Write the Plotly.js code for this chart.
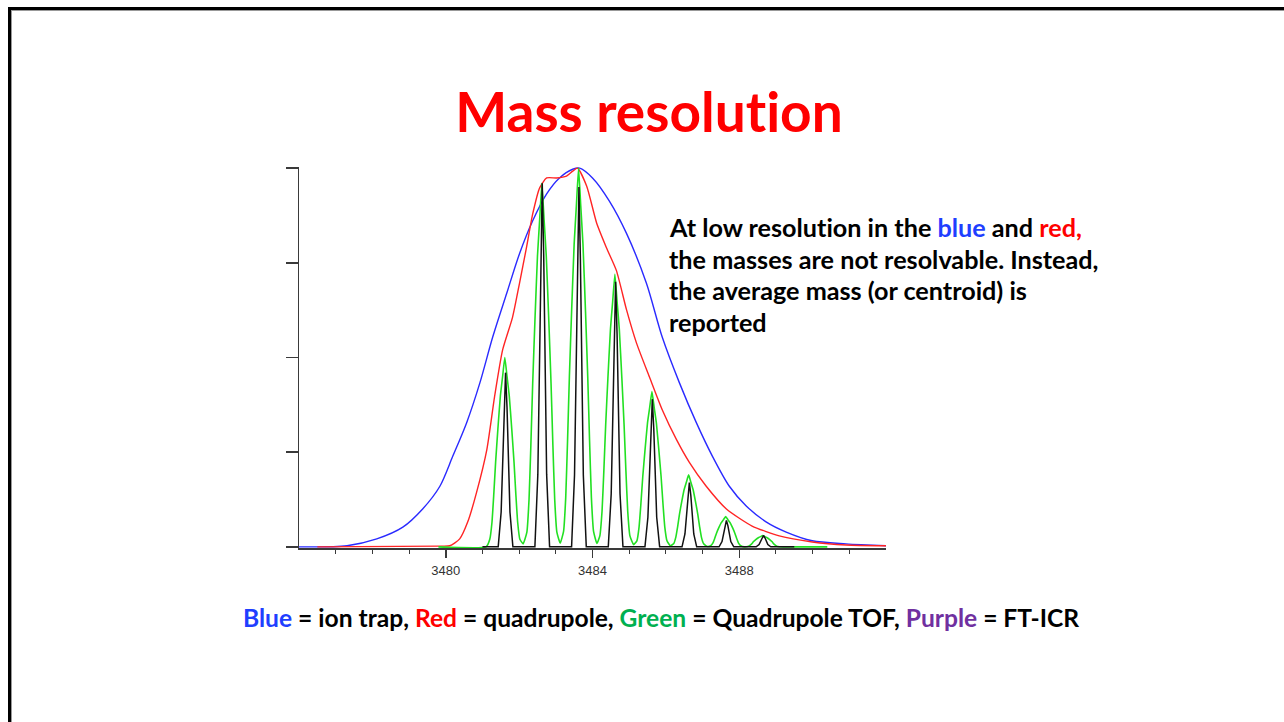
<!DOCTYPE html>
<html>
<head>
<meta charset="utf-8">
<script src="https://cdn.plot.ly/plotly-3.0.1.min.js"></script>
<style>
  html, body { margin: 0; padding: 0; background: #ffffff; }
  #chart { width: 1284px; height: 722px; }
  #chart text { font-variant-ligatures: none; font-feature-settings: "liga" 0, "clig" 0; }
  #frame {
    position: absolute; left: 8px; top: 7px; width: 1290px; height: 730px;
    border-left: 3px solid #000; border-top: 3px solid #000;
    box-shadow: inset 1px 1px 0 #999;
    pointer-events: none; box-sizing: border-box;
  }
</style>
</head>
<body>
<div id="chart"></div>
<div id="frame"></div>
<script>
// Blue = ion trap (lowest resolution)
const blueX = [3476.00, 3477.31, 3478.12, 3478.83, 3479.37, 3479.84, 3480.19, 3480.57, 3480.93, 3481.28, 3481.66, 3482.01, 3482.37, 3482.75, 3483.10, 3483.46, 3483.65, 3484.00, 3484.46, 3484.93, 3485.47, 3485.90, 3486.37, 3486.83, 3487.27, 3487.73, 3488.19, 3488.73, 3489.28, 3489.99, 3490.91, 3492.00];
const blueY = [0, 0.3, 2.1, 5.2, 10.0, 16.0, 23.9, 32.8, 43.3, 55.4, 66.9, 77.4, 86.1, 93.2, 97.4, 99.7, 100, 97.4, 91.3, 82.7, 69.6, 55.4, 43.3, 32.8, 23.9, 16.0, 10.8, 6.6, 3.9, 1.6, 0.8, 0.3];

// Red = quadrupole
const redX = [3476.50, 3479.84, 3480.11, 3480.38, 3480.60, 3480.84, 3481.12, 3481.33, 3481.55, 3481.82, 3482.01, 3482.20, 3482.37, 3482.56, 3482.75, 3483.02, 3483.29, 3483.46, 3483.59, 3483.84, 3484.11, 3484.38, 3484.65, 3484.93, 3485.20, 3485.55, 3485.90, 3486.29, 3486.64, 3487.10, 3487.65, 3488.35, 3489.09, 3489.99, 3490.91, 3492.00];
const redY = [0, 0.2, 0.3, 2.1, 6.6, 14.4, 25.7, 39.6, 52.0, 60.6, 69.6, 79.0, 87.9, 94.8, 97.4, 97.4, 97.9, 99.2, 100, 95.3, 85.6, 79.0, 73.0, 62.5, 53.8, 44.9, 36.2, 28.3, 22.3, 16.0, 10.0, 5.5, 2.9, 1.3, 0.5, 0.3];

// Green = Quadrupole TOF
const greenX = [3479.80, 3481.10,
  3481.20, 3481.26, 3481.31, 3481.36, 3481.42, 3481.49, 3481.55, 3481.61, 3481.67, 3481.73, 3481.80, 3481.86, 3481.91, 3481.96, 3482.02, 3482.11,
  3482.21, 3482.27, 3482.32, 3482.37, 3482.43, 3482.50, 3482.56, 3482.62, 3482.68, 3482.74, 3482.81, 3482.87, 3482.92, 3482.97, 3483.03, 3483.12,
  3483.21, 3483.27, 3483.32, 3483.37, 3483.43, 3483.50, 3483.56, 3483.62, 3483.68, 3483.74, 3483.81, 3483.87, 3483.92, 3483.97, 3484.03, 3484.12,
  3484.20, 3484.26, 3484.31, 3484.36, 3484.42, 3484.49, 3484.55, 3484.61, 3484.67, 3484.73, 3484.80, 3484.86, 3484.91, 3484.96, 3485.02, 3485.12,
  3485.21, 3485.27, 3485.32, 3485.37, 3485.43, 3485.50, 3485.56, 3485.62, 3485.68, 3485.74, 3485.81, 3485.87, 3485.92, 3485.97, 3486.03, 3486.12,
  3486.21, 3486.27, 3486.32, 3486.37, 3486.43, 3486.50, 3486.56, 3486.62, 3486.68, 3486.74, 3486.81, 3486.87, 3486.92, 3486.97, 3487.03, 3487.13,
  3487.22, 3487.28, 3487.33, 3487.38, 3487.44, 3487.51, 3487.57, 3487.63, 3487.69, 3487.75, 3487.82, 3487.88, 3487.93, 3487.98, 3488.04, 3488.14,
  3488.23, 3488.29, 3488.34, 3488.39, 3488.45, 3488.52, 3488.58, 3488.64, 3488.70, 3488.76, 3488.83, 3488.89, 3488.94, 3488.99, 3489.05, 3489.20,
  3490.40];
const greenY = [0, 0,
  2.0, 6.5, 14.0, 22.5, 31.0, 40.0, 45.0, 50, 45.0, 40.0, 31.0, 22.5, 14.0, 6.5, 2.0, 0.8,
  3.8, 12.5, 26.9, 43.2, 59.5, 76.8, 86.4, 96, 86.4, 76.8, 59.5, 43.2, 26.9, 12.5, 3.8, 1.0,
  4.0, 13.0, 28.0, 45.0, 62.0, 80.0, 90.0, 100, 90.0, 80.0, 62.0, 45.0, 28.0, 13.0, 4.0, 0.9,
  2.9, 9.4, 20.2, 32.4, 44.6, 57.6, 64.8, 72, 64.8, 57.6, 44.6, 32.4, 20.2, 9.4, 2.9, 0.6,
  1.6, 5.3, 11.5, 18.5, 25.4, 32.8, 36.9, 41, 36.9, 32.8, 25.4, 18.5, 11.5, 5.3, 1.6, 0.3,
  0.8, 2.5, 5.3, 8.6, 11.8, 15.2, 17.1, 19, 17.1, 15.2, 11.8, 8.6, 5.3, 2.5, 0.8, 0.1,
  0.3, 1.0, 2.2, 3.6, 5.0, 6.4, 7.2, 8, 7.2, 6.4, 5.0, 3.6, 2.2, 1.0, 0.3, 0,
  0.1, 0.4, 0.8, 1.4, 1.9, 2.4, 2.7, 3, 2.7, 2.4, 1.9, 1.4, 0.8, 0.4, 0.1, 0,
  0];

// FT-ICR (drawn black in the figure)
const ftX = [3481.00,
  3481.43, 3481.51, 3481.56, 3481.59, 3481.63, 3481.67, 3481.70, 3481.75, 3481.83,
  3482.43, 3482.51, 3482.56, 3482.59, 3482.63, 3482.67, 3482.70, 3482.75, 3482.83,
  3483.43, 3483.51, 3483.56, 3483.59, 3483.63, 3483.67, 3483.70, 3483.75, 3483.83,
  3484.43, 3484.51, 3484.56, 3484.59, 3484.63, 3484.67, 3484.70, 3484.75, 3484.83,
  3485.43, 3485.51, 3485.56, 3485.59, 3485.63, 3485.67, 3485.70, 3485.75, 3485.83,
  3486.44, 3486.52, 3486.57, 3486.60, 3486.64, 3486.68, 3486.71, 3486.76, 3486.84,
  3487.45, 3487.53, 3487.58, 3487.61, 3487.65, 3487.69, 3487.72, 3487.77, 3487.85,
  3488.46, 3488.54, 3488.59, 3488.62, 3488.66, 3488.70, 3488.73, 3488.78, 3488.86,
  3489.50];
const ftY = [0,
  0, 9.2, 23, 36.8, 46, 36.8, 23, 9.2, 0,
  0, 19.2, 48, 76.8, 96, 76.8, 48, 19.2, 0,
  0, 19, 47.5, 76, 95, 76, 47.5, 19, 0,
  0, 14, 35, 56, 70, 56, 35, 14, 0,
  0, 7.8, 19.5, 31.2, 39, 31.2, 19.5, 7.8, 0,
  0, 3.4, 8.5, 13.6, 17, 13.6, 8.5, 3.4, 0,
  0, 1.4, 3.5, 5.6, 7, 5.6, 3.5, 1.4, 0,
  0, 0.6, 1.5, 2.4, 3, 2.4, 1.5, 0.6, 0,
  0];

const xMajorTicks = [3480, 3484, 3488];
const xMinorTicks = [3477, 3478, 3479, 3481, 3482, 3483, 3485, 3486, 3487, 3489, 3490, 3491];
const yTicks = [0, 25, 50, 75, 100];

const titleText = 'Mass resolution';
const noteLines = [
  'At low resolution in the <span style="color:#1f3fff">blue</span> and <span style="color:#ff0000">red,</span>',
  'the masses are not resolvable. Instead,',
  'the average mass (or centroid) is',
  'reported'
];
const legendText = '<span style="color:#1f3fff">Blue</span> = ion trap, <span style="color:#ff0000">Red</span> = quadrupole, <span style="color:#00b050">Green</span> = Quadrupole TOF, <span style="color:#7030a0">Purple</span> = FT-ICR';

const traces = [
  {x: blueX, y: blueY, mode: 'lines', line: {color: '#2a2aff', width: 1.4, shape: 'spline', smoothing: 0.8}, name: 'Ion trap'},
  {x: redX, y: redY, mode: 'lines', line: {color: '#ff2424', width: 1.4, shape: 'spline', smoothing: 0.6}, name: 'Quadrupole'},
  {x: greenX, y: greenY, mode: 'lines', line: {color: '#22e022', width: 1.6, shape: 'spline', smoothing: 0.4}, name: 'Quadrupole TOF'},
  {x: ftX, y: ftY, mode: 'lines', line: {color: '#111111', width: 1.5}, name: 'FT-ICR'}
];

const plotL = 299, plotR = 886, plotT = 167, plotB = 548;
const W = 1284, H = 722;
const px = v => (v - plotL) / (plotR - plotL);
const py = v => (plotB - v) / (plotB - plotT);

const lineYs = [227, 258.5, 290, 321.5];
const annotations = noteLines.map((t, i) => ({
  text: '<b>' + t + '</b>', xref: 'paper', yref: 'paper',
  x: px(667), y: py(lineYs[i]), xanchor: 'left', yanchor: 'middle',
  showarrow: false, align: 'left',
  font: {family: 'Lato, "Open Sans", sans-serif', size: 25.2, color: '#000000'}
}));
annotations.push({
  text: '<b>' + legendText + '</b>', xref: 'paper', yref: 'paper',
  x: px(660.5), y: py(617), xanchor: 'center', yanchor: 'middle',
  showarrow: false,
  font: {family: 'Lato, "Open Sans", sans-serif', size: 24.6, color: '#000000'}
});

const layout = {
  width: W, height: H,
  margin: {l: plotL, r: W - plotR, t: plotT, b: H - plotB, pad: 0},
  paper_bgcolor: '#ffffff', plot_bgcolor: '#ffffff',
  showlegend: false,
  title: {
    text: '<b>' + titleText + '</b>', xref: 'container', yref: 'container',
    x: 649 / W, y: 1 - 113 / H, xanchor: 'center', yanchor: 'middle',
    font: {family: 'Lato, "Open Sans", sans-serif', size: 55, color: '#ff0000'}
  },
  xaxis: {
    range: [3476, 3492], showgrid: false, zeroline: false,
    showline: true, linecolor: '#3a3a3a', linewidth: 1.5, layer: 'below traces',
    ticks: 'outside', tickvals: xMajorTicks, ticktext: xMajorTicks.map(String),
    ticklen: 8, tickwidth: 1.5, tickcolor: '#3a3a3a', ticklabelstandoff: 2,
    minor: {tickvals: xMinorTicks, ticks: 'outside', ticklen: 4, tickwidth: 1, tickcolor: '#3a3a3a', showgrid: false},
    tickfont: {family: '"Liberation Sans", Arial, sans-serif', size: 13, color: '#333333'},
    fixedrange: true
  },
  yaxis: {
    range: [-0.3, 100.3], showgrid: false, zeroline: false,
    showline: true, linecolor: '#3a3a3a', linewidth: 1.5, layer: 'below traces',
    ticks: 'outside', tickvals: yTicks, ticklen: 12, tickwidth: 1.5, tickcolor: '#3a3a3a',
    showticklabels: false, fixedrange: true
  },
  annotations: annotations
};

Plotly.newPlot('chart', traces, layout, {displayModeBar: false, staticPlot: true});
</script>
</body>
</html>
